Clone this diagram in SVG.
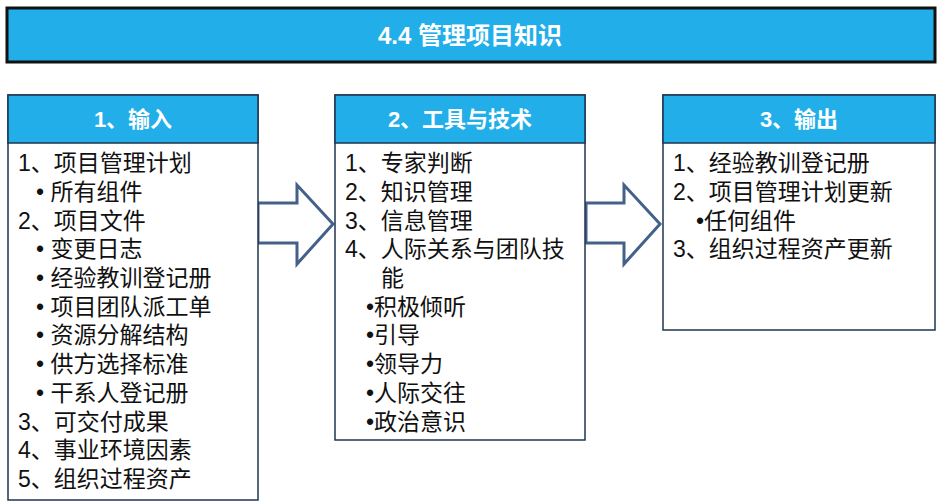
<svg xmlns="http://www.w3.org/2000/svg" width="940" height="504" viewBox="0 0 940 504">
<style>
.hd{fill:#22AEE8;stroke:#1f3550;stroke-width:1.5}
.bd{fill:#fff;stroke:#1f3550;stroke-width:1.5}
.ht{font-family:"Liberation Sans","Noto Sans CJK SC",sans-serif;font-weight:bold;font-size:22px;fill:#fff;text-anchor:middle}
.t{font-family:"Liberation Sans","Noto Sans CJK SC",sans-serif;font-size:23px;fill:#111}
.ar{fill:#fff;stroke:#44618a;stroke-width:3;stroke-linejoin:miter}
</style>
<rect width="940" height="504" fill="#fff"/>
<g id="title"><rect x="7" y="8" width="928" height="54" fill="#22AEE8" stroke="#111" stroke-width="3"/>
<text x="470" y="44" class="ht" style="font-size:24px">4.4 管理项目知识</text></g>
<g id="connectors">
<polygon class="ar" points="258,203 297,203 297,185 333,224 297,264 297,243 258,243"/>
<polygon class="ar" points="586,203 624,203 624,185 660,224 624,264 624,243 586,243"/>
</g>
<g id="input">
<rect class="bd" x="8" y="95" width="250" height="405"/>
<rect class="hd" x="8" y="95" width="250" height="48"/>
<text class="ht" x="133" y="127">1、输入</text>
<text class="t"><tspan x="18" y="171">1、项目管理计划</tspan><tspan x="36" y="200">• 所有组件</tspan><tspan x="18" y="229">2、项目文件</tspan><tspan x="36" y="257">• 变更日志</tspan><tspan x="36" y="286">• 经验教训登记册</tspan><tspan x="36" y="315">• 项目团队派工单</tspan><tspan x="36" y="343">• 资源分解结构</tspan><tspan x="36" y="372">• 供方选择标准</tspan><tspan x="36" y="401">• 干系人登记册</tspan><tspan x="18" y="430">3、可交付成果</tspan><tspan x="18" y="458">4、事业环境因素</tspan><tspan x="18" y="487">5、组织过程资产</tspan></text>
</g>
<g id="tools">
<rect class="bd" x="335" y="95" width="250" height="345"/>
<rect class="hd" x="335" y="95" width="250" height="48"/>
<text class="ht" x="460" y="127">2、工具与技术</text>
<text class="t"><tspan x="345" y="171">1、专家判断</tspan><tspan x="345" y="200">2、知识管理</tspan><tspan x="345" y="229">3、信息管理</tspan><tspan x="345" y="257">4、人际关系与团队技</tspan><tspan x="381" y="286">能</tspan><tspan x="366" y="315">•积极倾听</tspan><tspan x="366" y="343">•引导</tspan><tspan x="366" y="372">•领导力</tspan><tspan x="366" y="401">•人际交往</tspan><tspan x="366" y="430">•政治意识</tspan></text>
</g>
<g id="output">
<rect class="bd" x="663" y="95" width="272" height="235"/>
<rect class="hd" x="663" y="95" width="272" height="48"/>
<text class="ht" x="799" y="127">3、输出</text>
<text class="t"><tspan x="673" y="171">1、经验教训登记册</tspan><tspan x="673" y="200">2、项目管理计划更新</tspan><tspan x="696" y="229">•任何组件</tspan><tspan x="673" y="257">3、组织过程资产更新</tspan></text>
</g>
</svg>
